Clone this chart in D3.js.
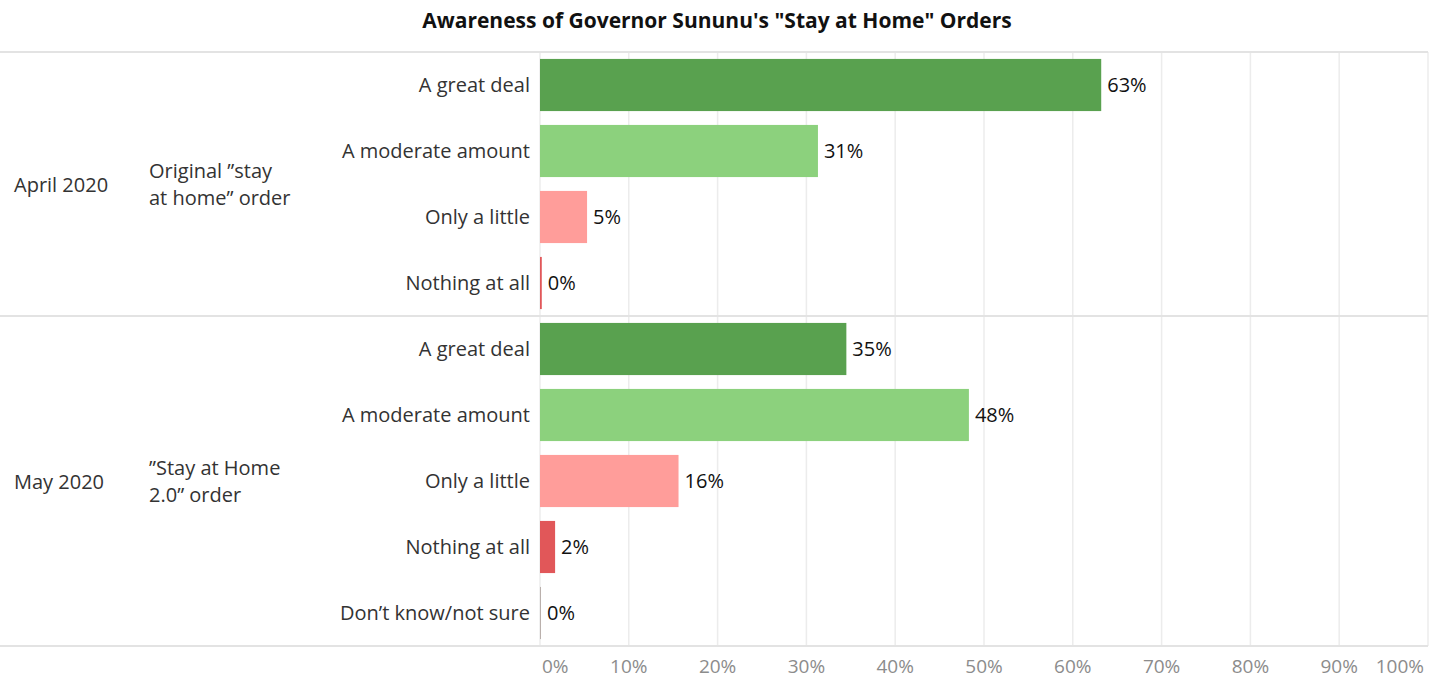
<!DOCTYPE html>
<html>
<head>
<meta charset="utf-8">
<script src="https://cdn.jsdelivr.net/npm/d3@7"></script>
<style>
  body { margin: 0; background: #fff; }
  text { font-family: "Open Sans", "Noto Sans", sans-serif; }
</style>
</head>
<body>
<svg id="chart" width="1442" height="680"></svg>
<script>
(function() {

// data
const periods = ['April 2020', 'May 2020'];
const orderNames = [['Original \u201dstay', 'at home\u201d order'], ['\u201dStay at Home', '2.0\u201d order']];
const aprilCategories = ['A great deal', 'A moderate amount', 'Only a little', 'Nothing at all'];
const aprilValues = [63.2, 31.3, 5.3, 0.2];
const mayCategories = ['A great deal', 'A moderate amount', 'Only a little', 'Nothing at all', 'Don\u2019t know/not sure'];
const mayValues = [34.5, 48.3, 15.6, 1.7, 0.1];
const aprilLabels = ['63%', '31%', '5%', '0%'];
const mayLabels = ['35%', '48%', '16%', '2%', '0%'];
const tickValues = [0, 10, 20, 30, 40, 50, 60, 70, 80, 90, 100];

const colorByCategory = {
    'A great deal': '#59a14f',
    'A moderate amount': '#8cd17d',
    'Only a little': '#ff9d9a',
    'Nothing at all': '#e15759',
    'Don\u2019t know/not sure': '#bab0ac'
};

var rows = [];
aprilCategories.forEach(function(c, i) {
    rows.push({ period: 0, key: 'a' + i, cat: c, value: aprilValues[i], label: aprilLabels[i] });
});
mayCategories.forEach(function(c, i) {
    rows.push({ period: 1, key: 'm' + i, cat: c, value: mayValues[i], label: mayLabels[i] });
});

var svg = d3.select('#chart');

var margin = {top: 52, left: 540, right: 14, bottom: 34},
    width = +svg.attr('width') - margin.left - margin.right,
    height = +svg.attr('height') - margin.top - margin.bottom;

var x = d3.scaleLinear().domain([0, 100]).range([0, width]);
var y = d3.scaleBand()
    .domain(rows.map(function(d) { return d.key; }))
    .range([0, height])
    .paddingInner(0.21)
    .paddingOuter(0.105);

// title
svg.append('text')
    .attr('x', 717)
    .attr('y', 28)
    .attr('text-anchor', 'middle')
    .style('font-size', '21px')
    .style('font-weight', 'bold')
    .style('fill', '#111')
    .text('Awareness of Governor Sununu\'s "Stay at Home" Orders');

var g = svg.append('g')
    .attr('transform', 'translate(' + margin.left + ',' + margin.top + ')');

// vertical gridlines
g.append('g')
    .selectAll('line')
    .data(tickValues)
  .enter().append('line')
    .attr('x1', function(d) { return x(d); })
    .attr('x2', function(d) { return x(d); })
    .attr('y1', 0)
    .attr('y2', height)
    .attr('stroke', '#ececec')
    .attr('stroke-width', 1.5);

// horizontal pane borders
var splitY = y.step() * aprilCategories.length;
svg.append('g')
    .selectAll('line')
    .data([0, splitY, height])
  .enter().append('line')
    .attr('x1', 0)
    .attr('x2', margin.left + width)
    .attr('y1', function(d) { return margin.top + d; })
    .attr('y2', function(d) { return margin.top + d; })
    .attr('stroke', '#e3e3e3')
    .attr('stroke-width', 2);

// bars
g.selectAll('.bar')
    .data(rows)
  .enter().append('rect')
    .attr('class', 'bar')
    .attr('x', 0)
    .attr('y', function(d) { return y(d.key); })
    .attr('width', function(d) { return Math.max(1, x(d.value)); })
    .attr('height', y.bandwidth())
    .attr('fill', function(d) { return colorByCategory[d.cat]; });

// value labels
g.selectAll('.val')
    .data(rows)
  .enter().append('text')
    .attr('class', 'val')
    .attr('x', function(d) { return Math.max(1, x(d.value)) + 6; })
    .attr('y', function(d) { return y(d.key) + y.bandwidth() / 2; })
    .attr('dy', '0.35em')
    .style('font-size', '20px')
    .style('fill', '#111')
    .text(function(d) { return d.label; });

// category labels
g.selectAll('.cat')
    .data(rows)
  .enter().append('text')
    .attr('class', 'cat')
    .attr('x', -10)
    .attr('y', function(d) { return y(d.key) + y.bandwidth() / 2; })
    .attr('dy', '0.35em')
    .attr('text-anchor', 'end')
    .style('font-size', '20px')
    .style('fill', '#333')
    .text(function(d) { return d.cat; });

// period and order labels
var paneCentres = [splitY / 2, (splitY + height) / 2];
periods.forEach(function(p, i) {
    svg.append('text')
        .attr('x', 14)
        .attr('y', margin.top + paneCentres[i] + 1)
        .attr('dy', '0.35em')
        .style('font-size', '20px')
        .style('fill', '#333')
        .text(p);
    var t = svg.append('text')
        .attr('x', 149)
        .attr('y', margin.top + paneCentres[i] - 13)
        .style('font-size', '20px')
        .style('fill', '#333');
    orderNames[i].forEach(function(line, j) {
        t.append('tspan')
            .attr('x', 149)
            .attr('dy', j === 0 ? '0.35em' : '27px')
            .text(line);
    });
});

// x axis tick labels, kept inside the plot width like the original
var ticks = g.append('g')
    .selectAll('text')
    .data(tickValues)
  .enter().append('text')
    .attr('x', function(d) { return x(d); })
    .attr('y', height + 20)
    .attr('dy', '0.35em')
    .attr('text-anchor', 'middle')
    .style('font-size', '19px')
    .style('fill', '#8c8c8c')
    .text(function(d) { return d + '%'; });

ticks.each(function() {
    var b = this.getBBox();
    var sel = d3.select(this);
    if (b.x < 2) sel.attr('x', +sel.attr('x') + (2 - b.x));
    if (b.x + b.width > width - 4) sel.attr('x', +sel.attr('x') - (b.x + b.width - width + 4));
});

})();
</script>
</body>
</html>
